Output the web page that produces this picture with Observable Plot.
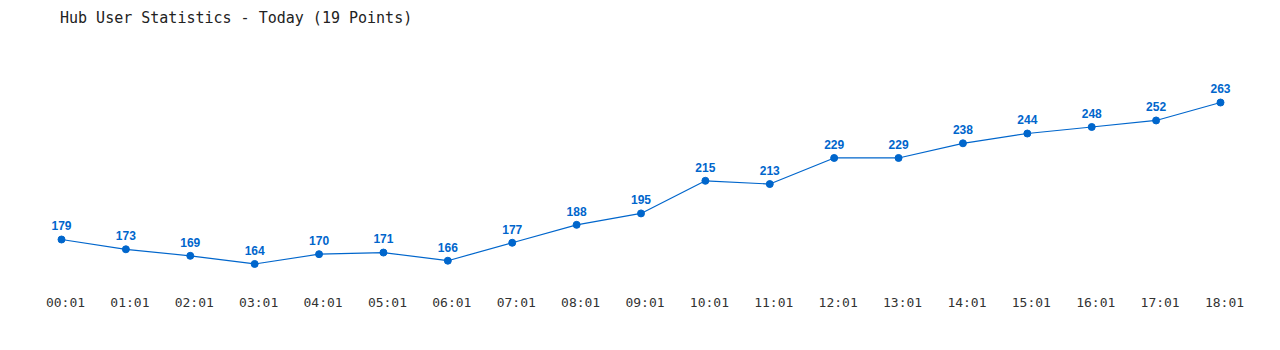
<!DOCTYPE html>
<html>
<head>
<meta charset="utf-8">
<script src="https://cdn.jsdelivr.net/npm/d3@7"></script>
<script src="https://cdn.jsdelivr.net/npm/@observablehq/plot@0.6"></script>
<style>
  html, body { margin: 0; padding: 0; background: #fff; }
  #title { height: 36px; box-sizing: border-box; padding: 9px 0 0 60px; font: 15px "DejaVu Sans Mono", monospace; color: #222; white-space: pre; }
  #chart svg { display: block; }
</style>
</head>
<body>
<div id="title">Hub User Statistics - Today (19 Points)</div>
<div id="chart"></div>
<script>
const times = ["00:01","01:01","02:01","03:01","04:01","05:01","06:01","07:01","08:01","09:01","10:01","11:01","12:01","13:01","14:01","15:01","16:01","17:01","18:01"];
const users = [179,173,169,164,170,171,166,177,188,195,215,213,229,229,238,244,248,252,263];

const data = times.map((t, i) => ({time: t, users: users[i]}));
const blue = "#0066cc";

const chart = Plot.plot({
  width: 1280,
  height: 314,
  marginTop: 0,
  marginLeft: 61,
  marginRight: 60,
  marginBottom: 59,
  style: {background: "#fff", overflow: "visible"},
  x: {type: "point", domain: times, padding: 0, round: false, range: [61, 1220], label: null},
  y: {domain: [150, 280], range: [250.3, 38.3], axis: null},
  marks: [
    Plot.axisX({tickSize: 0, tickPadding: 6, dx: 4, fontSize: 13, fontFamily: "DejaVu Sans Mono", fill: "#333", lineAnchor: "top", label: null}),
    Plot.line(data, {x: "time", y: "users", stroke: blue, strokeWidth: 1.2}),
    Plot.dot(data, {x: "time", y: "users", r: 3.5, fill: blue, stroke: blue, strokeWidth: 1}),
    Plot.text(data, {x: "time", y: "users", text: d => String(d.users), dy: -13, fill: blue, fontSize: 12, fontWeight: "bold", fontFamily: "Liberation Sans"})
  ]
});
document.getElementById("chart").appendChild(chart);
</script>
</body>
</html>
